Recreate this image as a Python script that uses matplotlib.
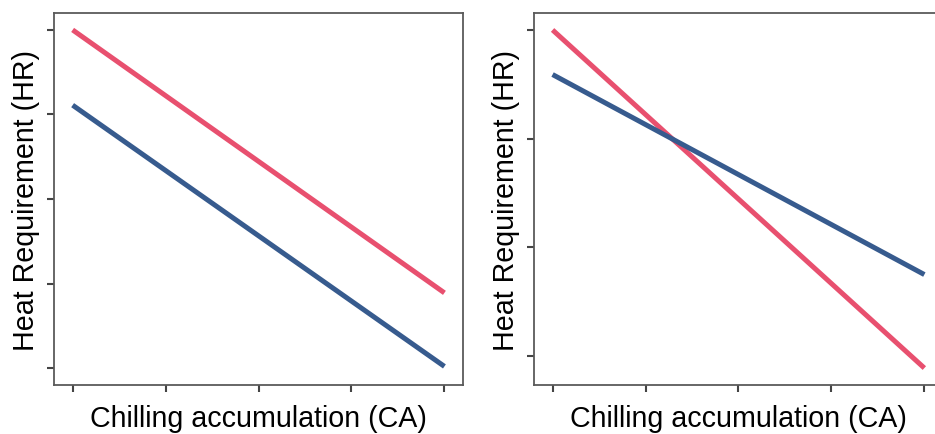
from matplotlib import pyplot

pyplot.rcParams["font.family"] = ["Liberation Sans", "DejaVu Sans"]

# chilling accumulation positions (tick units, no labels shown)
ca = [0, 4]
# left panel: parallel shift
left_red = [4.0, 0.89]
left_blue = [3.11, 0.02]
# right panel: crossing responses
right_red = [3.0, -0.11]
right_blue = [2.59, 0.75]

red = "#e8506f"
blue = "#375b8e"
spine_color = "#5a5a5a"


def style_axes(ax, yticks, ylim):
    ax.set_xlim(-0.2, 4.2)
    ax.set_ylim(*ylim)
    ax.set_xticks([0, 1, 2, 3, 4])
    ax.set_yticks(yticks)
    ax.set_xticklabels([])
    ax.set_yticklabels([])
    ax.tick_params(
        length=5,
        width=1.5,
        color="#444444",
    )
    for spine in ax.spines.values():
        spine.set_color(spine_color)
        spine.set_linewidth(1.3)
    ax.set_xlabel(
        "Chilling accumulation (CA)",
        fontsize=20.6,
        labelpad=5.5,
    )
    ax.set_ylabel(
        "Heat Requirement (HR)",
        fontsize=20.6,
        labelpad=1.5,
    )


fig = pyplot.figure(
    figsize=(9.35, 4.35),
    dpi=100,
)
ax1 = fig.add_axes([0.0578, 0.1126, 0.4374, 0.8552])
ax2 = fig.add_axes([0.5711, 0.1126, 0.4374, 0.8552])

ax1.plot(ca, left_red, color=red, linewidth=3.6, solid_capstyle="butt")
ax1.plot(ca, left_blue, color=blue, linewidth=3.6, solid_capstyle="butt")
style_axes(ax1, [0, 1, 2, 3, 4], (-0.2, 4.2))

ax2.plot(ca, right_red, color=red, linewidth=3.6, solid_capstyle="butt")
ax2.plot(ca, right_blue, color=blue, linewidth=3.6, solid_capstyle="butt")
style_axes(ax2, [0, 1, 2, 3], (-0.266, 3.156))
# right edge of this panel runs off the canvas
ax2.spines["right"].set_visible(False)

fig.savefig("out.png", dpi=100)
